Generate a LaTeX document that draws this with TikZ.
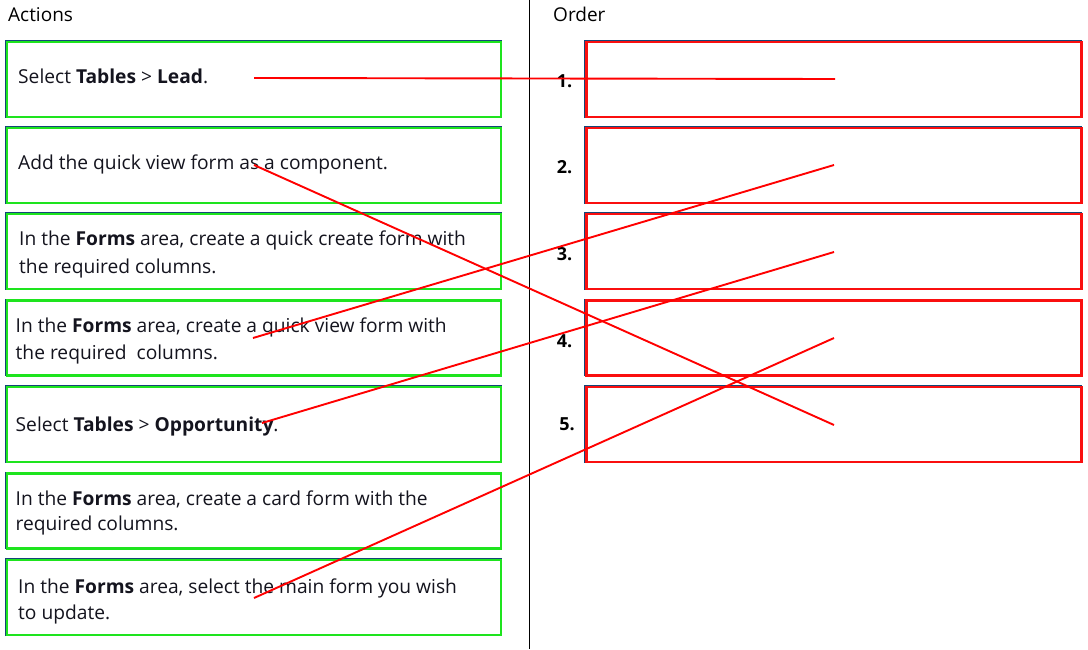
\documentclass[tikz,border=0pt]{standalone}
\usepackage{fontspec}
\setmainfont{Open Sans}
\definecolor{boxgreen}{RGB}{30,228,30}
\definecolor{boxred}{RGB}{250,15,15}
\definecolor{edgeblue}{RGB}{20,70,120}
\definecolor{txt}{RGB}{20,20,30}
\definecolor{linkred}{RGB}{255,0,0}
\begin{document}
\begin{tikzpicture}[x=1pt,y=-1pt,
  shadowedge/.style={draw=edgeblue,line width=1.4pt},
  actbox/.style={draw=boxgreen,line width=2.6pt,minimum width=494pt,minimum height=75pt,inner sep=0pt,outer sep=0pt},
  ordbox/.style={draw=boxred,line width=2.5pt,minimum width=495pt,minimum height=75pt,inner sep=0pt,outer sep=0pt},
  acttext/.style={anchor=base west,inner sep=0pt,text=txt,font=\fontsize{19.2}{27}\selectfont},
  heading/.style={anchor=base west,inner sep=0pt,text=black,font=\fontsize{19}{23}\selectfont},
  numlabel/.style={inner sep=0pt,text=black,font=\fontsize{18}{21}\bfseries\selectfont},
  link/.style={draw=linkred,line width=1.9pt}]
\useasboundingbox (0,0) rectangle (1088,649);
\fill[white] (0,0) rectangle (1088,649);

% divider
\coordinate (divtop) at (529.5,0);
\coordinate (divbot) at (529.5,649);
\draw[black,line width=1pt] (divtop) -- (divbot);

% headings
\node[heading] (hact) at (8,21) {Actions};
\node[heading] (hord) at (553,21) {Order};

% action boxes: blue offset edge then green frame
\foreach \n/\t/\b in {1/41/118,2/127/204,3/213/290,4/300/376,5/386/463,6/473/549,7/559/636}{
  \draw[shadowedge] (5.5,\t-0.7) rectangle (501,\b-1.2);
}
\node[actbox] (a1) at (254,79.5) {};
\node[actbox] (a2) at (254,165.5) {};
\node[actbox] (a3) at (254,251.5) {};
\node[actbox] (a4) at (254,338) {};
\node[actbox] (a5) at (254,424.5) {};
\node[actbox] (a6) at (254,511) {};
\node[actbox] (a7) at (254,597.5) {};

% order boxes
\foreach \n/\t/\b in {1/41/118,2/127/204,3/213/290,4/300/376,5/386/463}{
  \draw[shadowedge] (585,\t-0.7) rectangle (1081,\b-1.2);
}
\node[ordbox] (o1) at (834,79.5) {};
\node[ordbox] (o2) at (834,165.5) {};
\node[ordbox] (o3) at (834,251.5) {};
\node[ordbox] (o4) at (834,338) {};
\node[ordbox] (o5) at (834,424.5) {};

% number labels
\node[numlabel] (n1) at (564.5,81) {1.};
\node[numlabel] (n2) at (564.5,167) {2.};
\node[numlabel] (n3) at (564.5,254) {3.};
\node[numlabel] (n4) at (564.5,341) {4.};
\node[numlabel] (n5) at (567,424) {5.};

% action texts
\node[acttext] (t1) at (18,83) {Select \textbf{Tables} > \textbf{Lead}.};
\node[acttext] (t2) at (18,169) {Add the quick view form as a component.};
\node[acttext] (t3a) at (19,245) {In the \textbf{Forms} area, create a quick create form with};
\node[acttext] (t3b) at (19,273) {the required columns.};
\node[acttext] (t4a) at (15.5,332) {In the \textbf{Forms} area, create a quick view form with};
\node[acttext] (t4b) at (15.5,359) {the required\ \ columns.};
\node[acttext] (t5) at (15.5,431) {Select \textbf{Tables} > \textbf{Opportunity}.};
\node[acttext] (t6a) at (15.5,505) {In the \textbf{Forms} area, create a card form with the};
\node[acttext] (t6b) at (15.5,530) {required columns.};
\node[acttext] (t7a) at (18,593) {In the \textbf{Forms} area, select the main form you wish};
\node[acttext] (t7b) at (18,619) {to update.};

% link endpoints
\coordinate (s1) at (254,78);
\coordinate (s2) at (254,165);
\coordinate (s4) at (253,338);
\coordinate (s5) at (262,423);
\coordinate (s7) at (254,598);
\coordinate (e1) at (835,79);
\coordinate (e2) at (834,165);
\coordinate (e3) at (834,252);
\coordinate (e4) at (834,338);
\coordinate (e5) at (834,425);

\draw[link] (s1) -- (e1);
\draw[link] (s2) -- (e5);
\draw[link] (s4) -- (e2);
\draw[link] (s5) -- (e3);
\draw[link] (s7) -- (e4);
\end{tikzpicture}
\end{document}
